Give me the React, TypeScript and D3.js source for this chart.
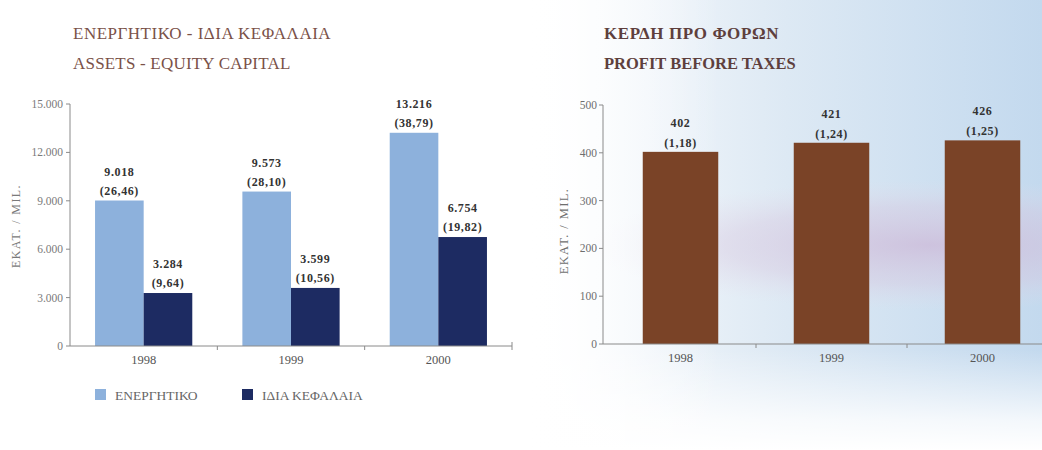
import React from "react";
import * as d3 from "d3";

const years = ["1998", "1999", "2000"];
const assets = [9018, 9573, 13216];
const assetsPct = [26.46, 28.1, 38.79];
const equity = [3284, 3599, 6754];
const equityPct = [9.64, 10.56, 19.82];
const profit = [402, 421, 426];
const profitPct = [1.18, 1.24, 1.25];
const leftTicks = [0, 3000, 6000, 9000, 12000, 15000];
const rightTicks = [0, 100, 200, 300, 400, 500];
const seriesKeys = ["ΕΝΕΡΓΗΤΙΚΟ", "ΙΔΙΑ ΚΕΦΑΛΑΙΑ"];

const locale = d3.formatLocale({ decimal: ",", thousands: ".", grouping: [3], currency: ["", ""] });
const fmtInt = locale.format(",.0f");
const fmtPct = locale.format(",.2f");

const SERIF = "'Liberation Serif', 'DejaVu Serif', serif";
const C_LIGHT = "#8db1dc";
const C_DARK = "#1d2b62";
const C_BROWN = "#7a4327";
const AXIS = "#8a8a8a";

export default function App() {
  // left chart scales
  const yL = d3.scaleLinear().domain([0, 15000]).range([346, 104]);
  const xL = d3.scaleBand().domain(years).range([70, 512]).paddingInner(0.34).paddingOuter(0.17);
  const xSub = d3.scaleBand().domain(seriesKeys).range([0, xL.bandwidth()]);
  const stepL = xL.step();
  const leftBounds = [70, 70 + stepL, 70 + 2 * stepL, 512];

  // right chart scales
  const yR = d3.scaleLinear().domain([0, 500]).range([344, 105]);
  const xR = d3.scaleBand().domain(years).range([605, 1058]).paddingInner(0.5).paddingOuter(0.25);
  const stepR = xR.step();
  const rightBounds = [605 + stepR, 605 + 2 * stepR];

  const leftSeries = [
    { key: seriesKeys[0], vals: assets, pct: assetsPct, color: C_LIGHT },
    { key: seriesKeys[1], vals: equity, pct: equityPct, color: C_DARK },
  ];

  return (
    <svg width={1042} height={450} style={{ position: "absolute", left: 0, top: 0, fontFamily: SERIF }}>
      <defs>
        <linearGradient id="bgH" x1="530" y1="0" x2="1042" y2="0" gradientUnits="userSpaceOnUse">
          <stop offset="0" stopColor="#ffffff" />
          <stop offset="0.18" stopColor="#f3f7fb" />
          <stop offset="0.5" stopColor="#dde9f4" />
          <stop offset="1" stopColor="#c3d9ee" />
        </linearGradient>
        <linearGradient id="fadeBottom" x1="0" y1="350" x2="0" y2="450" gradientUnits="userSpaceOnUse">
          <stop offset="0" stopColor="#ffffff" stopOpacity="0" />
          <stop offset="0.7" stopColor="#ffffff" stopOpacity="0.8" />
          <stop offset="1" stopColor="#ffffff" stopOpacity="1" />
        </linearGradient>
        <linearGradient id="fadeLeft" x1="530" y1="0" x2="720" y2="0" gradientUnits="userSpaceOnUse">
          <stop offset="0" stopColor="#ffffff" stopOpacity="1" />
          <stop offset="1" stopColor="#ffffff" stopOpacity="0" />
        </linearGradient>
        <radialGradient id="pinkBand" cx="0.5" cy="0.5" r="0.5">
          <stop offset="0" stopColor="#cdb6d6" stopOpacity="0.7" />
          <stop offset="0.6" stopColor="#d8c6de" stopOpacity="0.4" />
          <stop offset="1" stopColor="#e6dcea" stopOpacity="0" />
        </radialGradient>
      </defs>

      <rect x={0} y={0} width={1042} height={450} fill="#ffffff" />
      {/* right background */}
      <rect x={530} y={0} width={512} height={450} fill="url(#bgH)" />
      <ellipse cx={930} cy={245} rx={340} ry={65} fill="url(#pinkBand)" />
      <rect x={530} y={0} width={512} height={450} fill="url(#fadeBottom)" />
      <rect x={530} y={0} width={200} height={450} fill="url(#fadeLeft)" />

      {/* LEFT CHART */}
      <text x={73} y={39} fontSize={17} fill="#7a5148" letterSpacing={0.5}>ΕΝΕΡΓΗΤΙΚΟ - ΙΔΙΑ ΚΕΦΑΛΑΙΑ</text>
      <text x={73} y={69} fontSize={17} fill="#7a5148" letterSpacing={0.2}>ASSETS - EQUITY CAPITAL</text>

      <text transform={`translate(20,226) rotate(-90)`} textAnchor="middle" fontSize={12} fill="#7a7a7a" letterSpacing={1.4}>
        EKAT. / MIL.
      </text>

      {leftTicks.map((t) => (
        <g key={t}>
          <line x1={66} x2={70} y1={yL(t)} y2={yL(t)} stroke={AXIS} />
          <text x={63} y={yL(t) + 4} textAnchor="end" fontSize={11.5} fill="#7a7a7a">{fmtInt(t)}</text>
        </g>
      ))}
      <line x1={70} x2={70} y1={yL(15000)} y2={yL(0)} stroke={AXIS} />

      {years.map((yr, i) => (
        <g key={yr}>
          {leftSeries.map((s) => {
            const x = (xL(yr) as number) + (xSub(s.key) as number);
            const w = xSub.bandwidth();
            const top = yL(s.vals[i]);
            return (
              <g key={s.key}>
                <rect x={x} y={top} width={w} height={yL(0) - top} fill={s.color} />
                <text x={x + w / 2} y={top - 25} textAnchor="middle" fontSize={12} fontWeight="bold" fill="#333" letterSpacing={0.6}>
                  {fmtInt(s.vals[i])}
                </text>
                <text x={x + w / 2} y={top - 6} textAnchor="middle" fontSize={12} fontWeight="bold" fill="#333" letterSpacing={0.6}>
                  ({fmtPct(s.pct[i])})
                </text>
              </g>
            );
          })}
          <text x={(xL(yr) as number) + xL.bandwidth() / 2} y={364} textAnchor="middle" fontSize={12.5} fill="#555">{yr}</text>
        </g>
      ))}
      <line x1={70} x2={512} y1={yL(0)} y2={yL(0)} stroke={AXIS} />
      {leftBounds.slice(1).map((b, i) => (
        <line key={i} x1={b} x2={b} y1={yL(0) - (i === 2 ? 4 : 0)} y2={yL(0) + 4} stroke={AXIS} />
      ))}

      {/* legend */}
      {leftSeries.map((s, i) => {
        const lx = i === 0 ? 95 : 242;
        return (
          <g key={s.key}>
            <rect x={lx} y={389} width={11} height={11} fill={s.color} />
            <text x={lx + 20} y={400} fontSize={13.5} fill="#666">{s.key}</text>
          </g>
        );
      })}

      {/* RIGHT CHART */}
      <text x={604} y={39} fontSize={17} fontWeight={600} fill="#5e3f3d" letterSpacing={0.6}>ΚΕΡΔΗ ΠΡΟ ΦΟΡΩΝ</text>
      <text x={604} y={69} fontSize={16.5} fontWeight={600} fill="#5e3f3d" letterSpacing={0}>PROFIT BEFORE TAXES</text>

      <text transform={`translate(568,231) rotate(-90)`} textAnchor="middle" fontSize={12.5} fill="#6e6e6e" letterSpacing={1.4}>
        EKAT. / MIL.
      </text>

      {rightTicks.map((t) => (
        <g key={t}>
          <line x1={599} x2={603} y1={yR(t)} y2={yR(t)} stroke={AXIS} />
          <text x={597} y={yR(t) + 4} textAnchor="end" fontSize={11.5} fill="#6e6e6e">{t}</text>
        </g>
      ))}
      <line x1={603} x2={603} y1={yR(500)} y2={yR(0)} stroke={AXIS} />

      {years.map((yr, i) => {
        const x = xR(yr) as number;
        const w = xR.bandwidth();
        const top = yR(profit[i]);
        return (
          <g key={yr}>
            <rect x={x} y={top} width={w} height={yR(0) - top} fill={C_BROWN} />
            <text x={x + w / 2} y={top - 25} textAnchor="middle" fontSize={12} fontWeight="bold" fill="#333" letterSpacing={0.6}>
              {fmtInt(profit[i])}
            </text>
            <text x={x + w / 2} y={top - 5} textAnchor="middle" fontSize={12} fontWeight="bold" fill="#333" letterSpacing={0.6}>
              ({fmtPct(profitPct[i])})
            </text>
            <text x={x + w / 2} y={362} textAnchor="middle" fontSize={12.5} fill="#555">{yr}</text>
          </g>
        );
      })}
      <line x1={603} x2={1042} y1={yR(0)} y2={yR(0)} stroke={AXIS} />
      {rightBounds.map((b, i) => (
        <line key={i} x1={b} x2={b} y1={yR(0)} y2={yR(0) + 4} stroke={AXIS} />
      ))}
    </svg>
  );
}
